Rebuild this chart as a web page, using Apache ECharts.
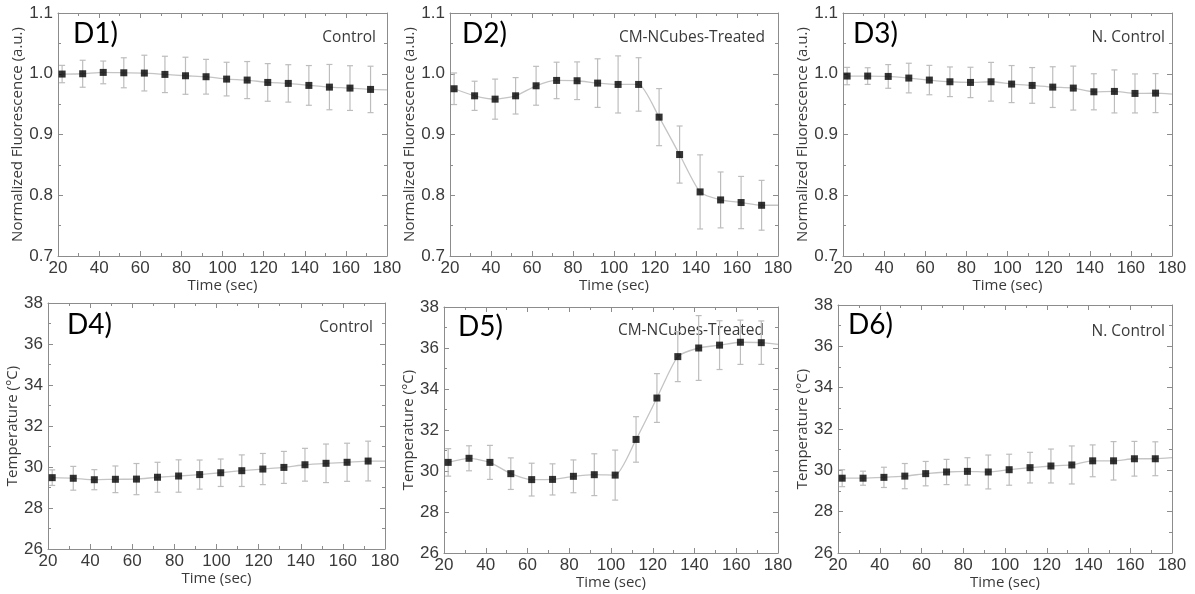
<!DOCTYPE html>
<html><head><meta charset="utf-8">
<script src="https://cdn.jsdelivr.net/npm/echarts@6/dist/echarts.min.js"></script>
<style>html,body{margin:0;padding:0;background:#fff}#c{width:1195px;height:594px}</style>
</head><body><div id="c"></div>
<script>
// ---------- DATA ----------
const timeSec = [22, 32, 42, 52, 62, 72, 82, 92, 102, 112, 122, 132, 142, 152, 162, 172];
const lineEndTime = 180;

const d1Mean = [0.9995, 1.000, 1.0022, 1.0016, 1.0011, 0.9989, 0.9967, 0.9951, 0.9912, 0.9896, 0.9857, 0.9841, 0.9808, 0.978, 0.9764, 0.9742];
const d1Err  = [0.0143, 0.0222, 0.0187, 0.0247, 0.0294, 0.0299, 0.0305, 0.0286, 0.0277, 0.0305, 0.031, 0.0308, 0.0327, 0.0373, 0.0368, 0.0382];
const d1End = 0.9736;

const d2Mean = [0.9753, 0.9637, 0.9582, 0.9637, 0.9802, 0.989, 0.9885, 0.9846, 0.9824, 0.9824, 0.9286, 0.867, 0.8055, 0.7923, 0.788, 0.7835];
const d2Err  = [0.026, 0.024, 0.033, 0.030, 0.032, 0.030, 0.031, 0.040, 0.047, 0.044, 0.047, 0.047, 0.061, 0.046, 0.043, 0.041];
const d2End = 0.7835;

const d3Mean = [0.9962, 0.9962, 0.9956, 0.9929, 0.9896, 0.9868, 0.9857, 0.9868, 0.983, 0.9808, 0.978, 0.9764, 0.9703, 0.9709, 0.9676, 0.9681];
const d3Err  = [0.0143, 0.0137, 0.0195, 0.0244, 0.0242, 0.0244, 0.025, 0.0319, 0.0305, 0.0294, 0.0335, 0.0362, 0.0297, 0.0354, 0.0321, 0.0321];
const d3End = 0.9665;

const d4Mean = [29.48, 29.45, 29.38, 29.40, 29.41, 29.50, 29.56, 29.63, 29.72, 29.82, 29.90, 29.98, 30.11, 30.18, 30.23, 30.29];
const d4Err  = [0.38, 0.58, 0.49, 0.65, 0.76, 0.73, 0.79, 0.71, 0.67, 0.77, 0.76, 0.78, 0.80, 0.94, 0.93, 0.97];
const d4End = 30.29;

const d5Mean = [30.42, 30.62, 30.42, 29.87, 29.58, 29.59, 29.74, 29.82, 29.80, 31.54, 33.56, 35.58, 36.00, 36.14, 36.28, 36.26];
const d5Err  = [0.67, 0.61, 0.83, 0.77, 0.80, 0.76, 0.80, 1.02, 1.22, 1.11, 1.19, 1.22, 1.58, 1.19, 1.08, 1.06];
const d5End = 36.18;

const d6Mean = [29.62, 29.62, 29.66, 29.72, 29.84, 29.92, 29.95, 29.92, 30.03, 30.13, 30.21, 30.26, 30.46, 30.46, 30.56, 30.56];
const d6Err  = [0.41, 0.34, 0.49, 0.61, 0.59, 0.61, 0.66, 0.82, 0.75, 0.74, 0.82, 0.92, 0.77, 0.93, 0.84, 0.82];
const d6End = 30.61;

const panelTags = ['D1)', 'D2)', 'D3)', 'D4)', 'D5)', 'D6)'];
const groupNames = ['Control', 'CM-NCubes-Treated', 'N. Control', 'Control', 'CM-NCubes-Treated', 'N. Control'];
const xAxisTitle = 'Time (sec)';
const fluoTitle = 'Normalized Fluorescence (a.u.)';
const tempTitle = 'Temperature (°C)';

// ---------- LAYOUT / STYLE ----------
const means = [d1Mean, d2Mean, d3Mean, d4Mean, d5Mean, d6Mean];
const errs = [d1Err, d2Err, d3Err, d4Err, d5Err, d6Err];
const ends = [d1End, d2End, d3End, d4End, d5End, d6End];

const layouts = [
  {left: 58,  top: 13,  width: 329, height: 243, yGap: 32, tagX: 73,  tagY: 37,  grpX: 376,  grpY: 38},
  {left: 450, top: 13,  width: 328, height: 243, yGap: 32, tagX: 462, tagY: 37,  grpX: 765,  grpY: 38},
  {left: 843, top: 13,  width: 329, height: 243, yGap: 33, tagX: 853, tagY: 37,  grpX: 1165, grpY: 38},
  {left: 48,  top: 303, width: 337, height: 246, yGap: 22, tagX: 67,  tagY: 328, grpX: 373,  grpY: 328},
  {left: 444, top: 307, width: 334, height: 246, yGap: 24, tagX: 458, tagY: 330, grpX: 764,  grpY: 331},
  {left: 838, top: 305, width: 334, height: 248, yGap: 27, tagX: 848, tagY: 328, grpX: 1165, grpY: 332}
];

const frameColor = '#8c8c8c';
const textColor = '#3a3a3a';
const tickFont = {fontFamily: 'Liberation Sans, Arial, sans-serif', fontSize: 17, color: textColor};
const nameFont = {fontFamily: 'Open Sans, sans-serif', fontSize: 15, color: textColor};

function errRender(params, api) {
  const x = api.value(0), m = api.value(1), e = api.value(2);
  const t = api.coord([x, m + e]);
  const b = api.coord([x, m - e]);
  const cap = 3;
  const style = {stroke: '#bdbdbd', lineWidth: 1.2};
  return {
    type: 'group',
    children: [
      {type: 'line', shape: {x1: t[0], y1: t[1], x2: b[0], y2: b[1]}, style: style},
      {type: 'line', shape: {x1: t[0] - cap, y1: t[1], x2: t[0] + cap, y2: t[1]}, style: style},
      {type: 'line', shape: {x1: b[0] - cap, y1: b[1], x2: b[0] + cap, y2: b[1]}, style: style}
    ]
  };
}

const grids = [], xAxes = [], yAxes = [], series = [], graphics = [];

layouts.forEach((L, i) => {
  const isFluo = i < 3;
  grids.push({left: L.left, top: L.top, width: L.width, height: L.height, containLabel: false});
  const axisLine = {show: true, onZero: false, lineStyle: {color: frameColor, width: 1}};
  const axisTick = {show: true, inside: true, length: 5, lineStyle: {color: frameColor}};
  const minorTick = {show: true, splitNumber: 2, length: 3, lineStyle: {color: frameColor}};
  const xBase = {type: 'value', gridIndex: i, min: 20, max: 180, interval: 20,
    axisLine: axisLine, axisTick: axisTick, minorTick: minorTick, splitLine: {show: false}};
  xAxes.push(Object.assign({}, xBase, {
    position: 'bottom',
    name: xAxisTitle, nameLocation: 'middle', nameGap: 19, nameTextStyle: nameFont,
    axisLabel: Object.assign({show: true, margin: 4, showMinLabel: true, showMaxLabel: true}, tickFont)
  }));
  xAxes.push(Object.assign({}, xBase, {position: 'top', axisLabel: {show: false}}));

  const yBase = isFluo
    ? {min: 0.7, max: 1.1, interval: 0.1}
    : {min: 26, max: 38, interval: 2};
  const yCommon = Object.assign({type: 'value', gridIndex: i,
    axisLine: axisLine, axisTick: axisTick, minorTick: minorTick, splitLine: {show: false}}, yBase);
  yAxes.push(Object.assign({}, yCommon, {
    position: 'left',
    name: isFluo ? fluoTitle : tempTitle, nameLocation: 'middle', nameGap: L.yGap, nameRotate: 90,
    nameTextStyle: nameFont,
    axisLabel: Object.assign({show: true, margin: 5, showMinLabel: true, showMaxLabel: true,
      formatter: v => isFluo ? v.toFixed(1) : String(Math.round(v))}, tickFont)
  }));
  yAxes.push(Object.assign({}, yCommon, {position: 'right', axisLabel: {show: false}}));

  const xi = 2 * i, yi = 2 * i;
  const m = means[i], e = errs[i];
  const lineData = timeSec.map((t, k) => [t, m[k]]).concat([[lineEndTime, ends[i]]]);
  series.push({
    type: 'custom', xAxisIndex: xi, yAxisIndex: yi, renderItem: errRender,
    data: timeSec.map((t, k) => [t, m[k], e[k]]), encode: {x: 0, y: 1}, z: 1, silent: true
  });
  series.push({
    type: 'line', xAxisIndex: xi, yAxisIndex: yi, data: lineData, smooth: 0.2,
    showSymbol: false, lineStyle: {color: '#c4c4c4', width: 1.3}, z: 2, silent: true
  });
  series.push({
    type: 'scatter', xAxisIndex: xi, yAxisIndex: yi, data: timeSec.map((t, k) => [t, m[k]]),
    symbol: 'rect', symbolSize: 7, itemStyle: {color: '#000'}, z: 3, silent: true
  });

  graphics.push({type: 'text', left: L.tagX, top: L.tagY - 17, style: {
    text: panelTags[i], font: '28px Lato, "Open Sans", sans-serif', fill: '#000'}});
  graphics.push({type: 'text', x: L.grpX, y: L.grpY, style: {
    text: groupNames[i], font: '15.5px "Open Sans", sans-serif', fill: textColor,
    align: 'right', verticalAlign: 'middle'}});
});

const chart = echarts.init(document.getElementById('c'), null, {renderer: 'canvas'});
chart.setOption({
  animation: false,
  backgroundColor: '#fff',
  grid: grids,
  xAxis: xAxes,
  yAxis: yAxes,
  series: series,
  graphic: graphics
});
</script>
</body></html>
